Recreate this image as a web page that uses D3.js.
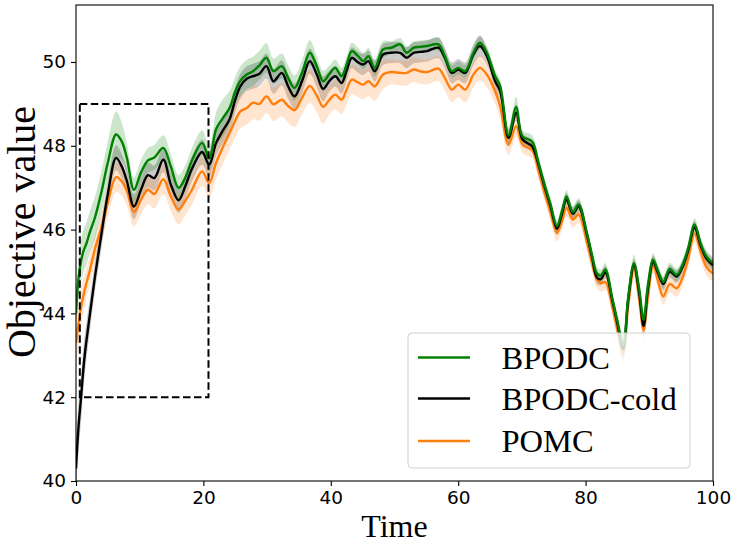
<!DOCTYPE html>
<html><head><meta charset="utf-8">
<script src="https://cdn.jsdelivr.net/npm/d3@7"></script>
<style>body{margin:0;background:#fff}svg{display:block}</style>
</head><body>
<svg id="chart" width="747" height="549"></svg>
<script>
const time = [0,0.4,0.8,1.2,1.6,2.2,3,4,5,6.3,
7.2,8,9.1,10.2,11.3,12.3,13.7,14.9,16.1,17.2,
18.2,19.8,20.9,22,23,24.1,25,25.8,26.8,27.8,
28.8,29.9,31,32.3,33.3,34.3,35.5,36.7,37.8,38.8,
39.8,40.7,41.7,42.5,43.3,44.2,45.1,45.9,46.9,48.2,
49.5,50.9,51.9,53,54,55.1,56.9,57.9,59,60,
61.1,62.4,63.4,64.5,65.8,66.6,67.9,69.1,70.1,71.6,
72.6,73.6,74.5,75.5,76.3,77,78,78.9,80.2,81,
81.8,82.4,83.1,84.2,85,85.9,86.7,87.6,88.4,89.1,
89.8,90.6,91.4,92.2,93.2,94.3,95.2,96.1,97.1,98.1,
99,100];

const bpodc = [44.0,44.85,45.25,45.5,45.65,45.95,46.3,46.9,47.6,48.27,
48.1,47.7,46.95,47.36,47.65,47.72,47.95,47.5,47.0,47.25,
47.65,48.07,47.7,48.4,48.65,48.9,49.3,49.55,49.7,49.78,
49.92,50.1,49.78,49.9,49.62,49.38,49.75,50.22,49.9,49.54,
49.72,49.86,49.66,49.95,50.26,50.15,50.02,50.14,49.86,50.3,
50.34,50.42,50.22,50.34,50.36,50.38,50.42,50.14,49.78,49.86,
49.78,50.22,50.46,50.22,49.66,49.42,48.25,48.92,48.22,48.1,
47.6,47.05,46.6,46.08,46.45,46.79,46.42,46.6,45.92,45.4,
44.95,44.9,45.05,44.35,43.8,43.25,44.4,45.2,44.6,43.85,
44.7,45.28,45.0,44.75,45.06,44.92,45.15,45.55,46.12,45.65,
45.35,45.2];
const bpodcBand = [0.3,0.45,0.5,0.5,0.5,0.5,0.5,0.5,0.5,0.55,
0.45,0.35,0.3,0.3,0.3,0.3,0.3,0.3,0.3,0.3,
0.3,0.3,0.3,0.4,0.45,0.4,0.35,0.35,0.35,0.35,
0.35,0.35,0.3,0.3,0.3,0.3,0.3,0.3,0.25,0.25,
0.2,0.2,0.2,0.2,0.2,0.2,0.2,0.2,0.2,0.2,
0.15,0.15,0.15,0.15,0.15,0.15,0.15,0.15,0.15,0.15,
0.15,0.15,0.15,0.15,0.15,0.15,0.2,0.25,0.15,0.15,
0.15,0.15,0.15,0.15,0.15,0.15,0.15,0.15,0.15,0.15,
0.15,0.15,0.15,0.15,0.2,0.25,0.2,0.2,0.15,0.2,
0.15,0.15,0.15,0.15,0.15,0.15,0.15,0.15,0.15,0.15,
0.15,0.15];

const cold = [40.3,41.3,42.0,42.75,43.3,44.0,44.9,45.9,46.85,47.71,
47.5,47.15,46.55,46.95,47.3,47.23,47.67,47.07,46.7,47.05,
47.45,47.85,47.55,48.07,48.35,48.63,49.1,49.42,49.6,49.66,
49.72,49.9,49.54,49.74,49.42,49.18,49.55,50.02,49.7,49.36,
49.55,49.66,49.5,49.8,50.1,50.0,49.94,50.02,49.78,50.18,
50.22,50.22,50.1,50.22,50.24,50.26,50.34,50.1,49.74,49.82,
49.74,50.18,50.38,50.14,49.54,49.3,48.19,48.79,48.15,47.99,
47.55,47.0,46.55,46.02,46.38,46.72,46.38,46.55,45.88,45.35,
44.85,44.82,44.98,44.3,43.75,43.15,44.35,45.15,44.5,43.7,
44.6,45.22,44.95,44.7,45.0,44.88,45.1,45.5,46.05,45.6,
45.3,45.15];
const coldBand = [0.6,0.6,0.55,0.5,0.45,0.4,0.35,0.35,0.3,0.3,
0.3,0.3,0.3,0.3,0.3,0.3,0.3,0.3,0.3,0.3,
0.3,0.3,0.3,0.3,0.3,0.3,0.3,0.3,0.3,0.3,
0.3,0.3,0.3,0.3,0.3,0.3,0.3,0.3,0.3,0.3,
0.25,0.25,0.25,0.25,0.25,0.25,0.25,0.25,0.25,0.25,
0.25,0.25,0.25,0.25,0.25,0.25,0.25,0.25,0.25,0.25,
0.25,0.25,0.25,0.2,0.2,0.2,0.2,0.2,0.15,0.15,
0.15,0.15,0.15,0.15,0.15,0.15,0.15,0.15,0.15,0.15,
0.15,0.15,0.15,0.15,0.2,0.25,0.2,0.15,0.15,0.25,
0.15,0.15,0.15,0.15,0.15,0.15,0.15,0.15,0.15,0.15,
0.15,0.15];

const pomc = [43.3,43.75,44.15,44.45,44.7,45.04,45.55,46.05,46.65,47.25,
47.15,46.92,46.42,46.71,46.95,46.85,47.2,46.79,46.48,46.7,
46.95,47.39,47.11,47.6,47.95,48.3,48.6,48.82,48.9,49.03,
49.0,49.18,48.99,49.1,48.95,48.85,49.15,49.43,49.2,48.93,
49.1,49.22,49.1,49.35,49.58,49.52,49.46,49.54,49.42,49.7,
49.76,49.74,49.74,49.82,49.78,49.76,49.84,49.62,49.34,49.46,
49.34,49.7,49.86,49.7,49.3,48.94,48.03,48.47,48.03,47.9,
47.4,46.85,46.4,45.92,46.2,46.52,46.24,46.36,45.7,45.2,
44.8,44.72,44.75,44.15,43.6,43.05,44.2,45.05,44.35,43.6,
44.4,45.15,44.75,44.4,44.7,44.6,44.85,45.3,45.9,45.45,
45.1,44.95];
const pomcBand = [0.6,0.5,0.45,0.4,0.35,0.35,0.35,0.35,0.35,0.35,
0.35,0.35,0.35,0.35,0.35,0.35,0.35,0.35,0.35,0.35,
0.35,0.35,0.35,0.4,0.4,0.4,0.4,0.4,0.4,0.4,
0.4,0.4,0.4,0.4,0.4,0.4,0.4,0.4,0.4,0.4,
0.35,0.35,0.35,0.35,0.35,0.35,0.35,0.35,0.35,0.35,
0.3,0.3,0.3,0.3,0.3,0.3,0.3,0.3,0.3,0.3,
0.3,0.3,0.3,0.3,0.3,0.3,0.25,0.25,0.2,0.2,
0.2,0.2,0.2,0.2,0.2,0.2,0.2,0.2,0.2,0.2,
0.2,0.2,0.2,0.2,0.2,0.25,0.2,0.2,0.2,0.25,
0.2,0.2,0.2,0.2,0.2,0.2,0.2,0.2,0.2,0.2,
0.2,0.2];

const seriesNames = ["BPODC", "BPODC-cold", "POMC"];
const seriesColors = ["#008000", "#000000", "#ff7f0e"];
const xTicks = [0, 20, 40, 60, 80, 100];
const yTicks = [40, 42, 44, 46, 48, 50];
const zoomBox = {x0: 0.6, x1: 20.8, y0: 42, y1: 49};

const svg = d3.select("#chart");
const L = 76, R = 713, T = 5, B = 481;
const x = d3.scaleLinear().domain([0, 100]).range([L, R]);
const y = d3.scaleLinear().domain([40, 51.36]).range([B, T]);

const defs = svg.append("defs");
defs.append("clipPath").attr("id", "clip").append("rect")
  .attr("x", L).attr("y", T).attr("width", R - L).attr("height", B - T);

const plot = svg.append("g").attr("clip-path", "url(#clip)");

const seriesData = [
  {vals: bpodc, band: bpodcBand},
  {vals: cold, band: coldBand},
  {vals: pomc, band: pomcBand}
];
const curve = d3.curveCatmullRom.alpha(0.5);

seriesData.forEach((s, i) => {
  const pts = time.map((t, j) => ({t, v: s.vals[j], b: s.band[j]}));
  const area = d3.area().curve(curve)
    .x(d => x(d.t)).y0(d => y(d.v - d.b)).y1(d => y(d.v + d.b));
  plot.append("path").datum(pts).attr("d", area)
    .attr("fill", seriesColors[i]).attr("fill-opacity", 0.2).attr("stroke", "none");
});
[2, 1, 0].forEach(i => {
  const s = seriesData[i];
  const pts = time.map((t, j) => ({t, v: s.vals[j]}));
  const line = d3.line().curve(curve).x(d => x(d.t)).y(d => y(d.v));
  plot.append("path").datum(pts).attr("d", line)
    .attr("fill", "none").attr("stroke", seriesColors[i]).attr("stroke-width", 2.4)
    .attr("stroke-linejoin", "round");
});

// dashed zoom rectangle
svg.append("rect")
  .attr("x", x(zoomBox.x0)).attr("y", y(zoomBox.y1))
  .attr("width", x(zoomBox.x1) - x(zoomBox.x0)).attr("height", y(zoomBox.y0) - y(zoomBox.y1))
  .attr("fill", "none").attr("stroke", "#000").attr("stroke-width", 2)
  .attr("stroke-dasharray", "7.5,3.5");

// axes
const xAxis = d3.axisBottom(x).tickValues(xTicks).tickSize(5).tickPadding(5);
const yAxis = d3.axisLeft(y).tickValues(yTicks).tickSize(5).tickPadding(5);
const gx = svg.append("g").attr("transform", `translate(0,${B})`).call(xAxis);
const gy = svg.append("g").attr("transform", `translate(${L},0)`).call(yAxis);
[gx, gy].forEach(g => {
  g.select(".domain").remove();
  g.selectAll("line").attr("stroke", "#000").attr("stroke-width", 1.1);
  g.selectAll("text").attr("font-family", "DejaVu Sans").attr("font-size", "18.5px").attr("fill", "#000");
});

// frame
svg.append("rect").attr("x", L).attr("y", T).attr("width", R - L).attr("height", B - T)
  .attr("fill", "none").attr("stroke", "#000").attr("stroke-width", 1.1);

// labels
svg.append("text").attr("x", (L + R) / 2).attr("y", 537).attr("text-anchor", "middle")
  .attr("font-family", "Liberation Serif, Times New Roman, serif").attr("font-size", "32px")
  .text("Time");
svg.append("text").attr("transform", `translate(35,${(T + B) / 2 - 11}) rotate(-90)`)
  .attr("text-anchor", "middle")
  .attr("font-family", "Liberation Serif, Times New Roman, serif").attr("font-size", "40px")
  .text("Objective value");

// legend
const leg = svg.append("g");
leg.append("rect").attr("x", 408).attr("y", 333).attr("width", 282).attr("height", 135)
  .attr("rx", 4).attr("fill", "#fff").attr("fill-opacity", 0.8)
  .attr("stroke", "#d0d0d0").attr("stroke-width", 1);
const rowY = [357.5, 398.5, 441];
seriesNames.forEach((n, i) => {
  leg.append("line").attr("x1", 418).attr("x2", 470).attr("y1", rowY[i]).attr("y2", rowY[i])
    .attr("stroke", seriesColors[i]).attr("stroke-width", 2.4);
  leg.append("text").attr("x", 501.5).attr("y", rowY[i] + 11)
    .attr("font-family", "Liberation Serif, Times New Roman, serif").attr("font-size", "32.5px")
    .text(n);
});
</script>
</body></html>
